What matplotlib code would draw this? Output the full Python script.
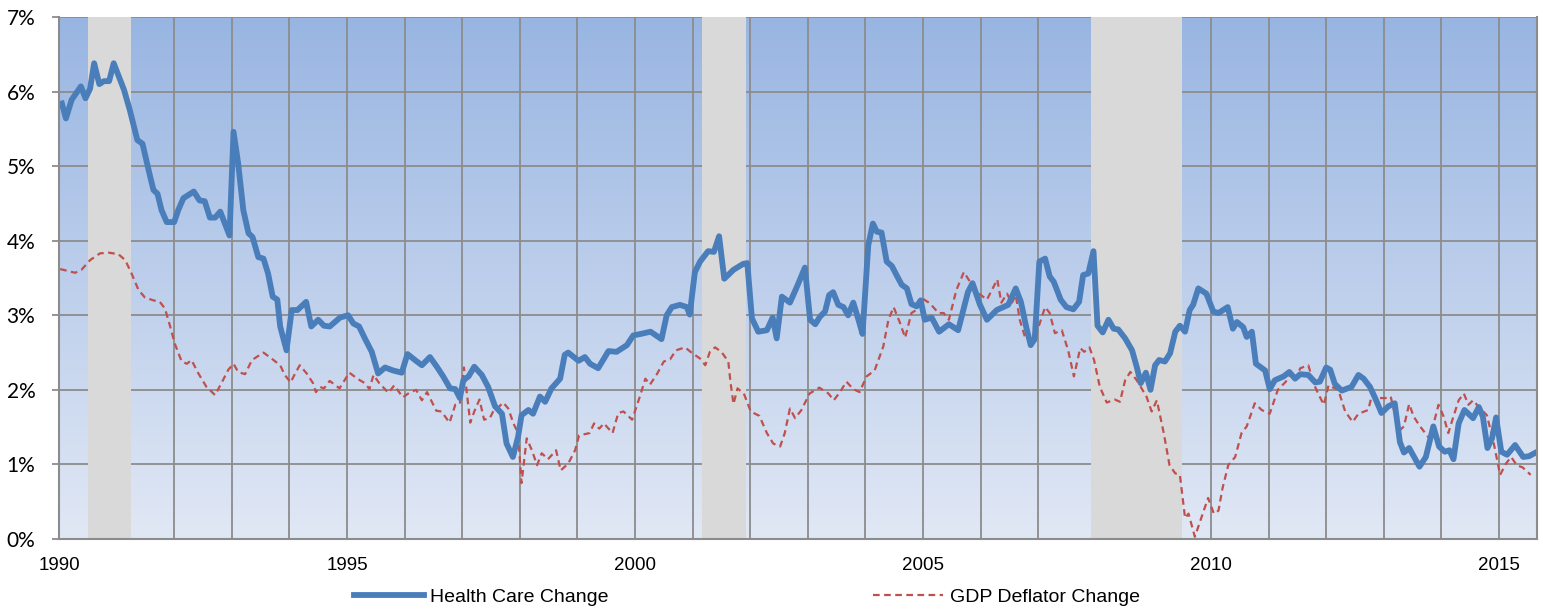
import numpy as np
import matplotlib
matplotlib.use('Agg')
import matplotlib.pyplot as plt
from matplotlib.ticker import MultipleLocator, FuncFormatter

plt.rcParams['font.family'] = ['Liberation Sans', 'DejaVu Sans']

# Health care price change, % y/y
hc_t = [1990.05, 1990.12, 1990.22, 1990.38, 1990.46, 1990.54, 1990.61, 1990.70, 1990.78, 1990.87,
        1990.95, 1991.13, 1991.23, 1991.36, 1991.45, 1991.57, 1991.64, 1991.71, 1991.78, 1991.87,
        1992.00, 1992.07, 1992.16, 1992.34, 1992.44, 1992.53, 1992.62, 1992.71, 1992.80, 1992.88,
        1992.96, 1993.03, 1993.11, 1993.20, 1993.29, 1993.36, 1993.46, 1993.55, 1993.63, 1993.71,
        1993.79, 1993.84, 1993.95, 1994.04, 1994.14, 1994.29, 1994.38, 1994.50, 1994.60, 1994.70,
        1994.88, 1995.02, 1995.11, 1995.21, 1995.31, 1995.43, 1995.54, 1995.66, 1995.80, 1995.95,
        1996.05, 1996.18, 1996.30, 1996.44, 1996.56, 1996.67, 1996.79, 1996.88, 1996.96, 1997.02,
        1997.11, 1997.21, 1997.34, 1997.45, 1997.57, 1997.69, 1997.77, 1997.88, 1997.97, 1998.03,
        1998.15, 1998.23, 1998.35, 1998.44, 1998.55, 1998.70, 1998.78, 1998.84, 1999.02, 1999.13,
        1999.22, 1999.36, 1999.54, 1999.68, 1999.86, 1999.97, 2000.10, 2000.27, 2000.46, 2000.55,
        2000.64, 2000.78, 2000.90, 2000.95, 2001.04, 2001.13, 2001.27, 2001.37, 2001.46, 2001.55,
        2001.71, 2001.88, 2001.95, 2002.03, 2002.14, 2002.29, 2002.39, 2002.46, 2002.55, 2002.69,
        2002.81, 2002.95, 2003.04, 2003.13, 2003.21, 2003.30, 2003.37, 2003.44, 2003.53, 2003.62,
        2003.70, 2003.79, 2003.88, 2003.95, 2004.05, 2004.13, 2004.20, 2004.28, 2004.37, 2004.46,
        2004.54, 2004.63, 2004.72, 2004.80, 2004.89, 2004.96, 2005.03, 2005.15, 2005.28, 2005.45,
        2005.61, 2005.78, 2005.86, 2005.99, 2006.11, 2006.28, 2006.48, 2006.61, 2006.70, 2006.79,
        2006.87, 2006.94, 2007.02, 2007.12, 2007.20, 2007.27, 2007.39, 2007.49, 2007.61, 2007.71,
        2007.78, 2007.87, 2007.96, 2008.03, 2008.12, 2008.22, 2008.31, 2008.39, 2008.51, 2008.63,
        2008.71, 2008.78, 2008.87, 2008.95, 2009.03, 2009.10, 2009.20, 2009.29, 2009.38, 2009.46,
        2009.55, 2009.63, 2009.69, 2009.78, 2009.92, 2010.04, 2010.13, 2010.29, 2010.38, 2010.45,
        2010.56, 2010.62, 2010.71, 2010.78, 2010.94, 2011.02, 2011.11, 2011.26, 2011.36, 2011.46,
        2011.55, 2011.69, 2011.81, 2011.89, 2012.00, 2012.07, 2012.15, 2012.27, 2012.44, 2012.56,
        2012.65, 2012.76, 2012.85, 2012.96, 2013.08, 2013.19, 2013.28, 2013.35, 2013.44, 2013.62,
        2013.73, 2013.86, 2013.96, 2014.06, 2014.14, 2014.21, 2014.30, 2014.40, 2014.55, 2014.65,
        2014.72, 2014.80, 2014.88, 2014.95, 2015.04, 2015.14, 2015.28, 2015.42, 2015.52, 2015.64]
hc_v = [5.84, 5.64, 5.89, 6.07, 5.91, 6.04, 6.38, 6.10, 6.14, 6.14,
        6.38, 6.02, 5.75, 5.35, 5.30, 4.90, 4.68, 4.63, 4.41, 4.25,
        4.25, 4.41, 4.57, 4.66, 4.54, 4.53, 4.31, 4.31, 4.39, 4.23,
        4.07, 5.46, 5.04, 4.41, 4.10, 4.05, 3.78, 3.76, 3.56, 3.25,
        3.21, 2.85, 2.53, 3.07, 3.07, 3.18, 2.85, 2.94, 2.86, 2.85,
        2.97, 3.00, 2.89, 2.85, 2.69, 2.51, 2.22, 2.30, 2.26, 2.23,
        2.48, 2.40, 2.33, 2.44, 2.31, 2.18, 2.02, 2.01, 1.89, 2.13,
        2.18, 2.31, 2.20, 2.04, 1.78, 1.68, 1.28, 1.10, 1.37, 1.66,
        1.73, 1.68, 1.91, 1.84, 2.02, 2.15, 2.47, 2.50, 2.39, 2.44,
        2.35, 2.29, 2.52, 2.51, 2.60, 2.73, 2.75, 2.78, 2.68, 3.00,
        3.11, 3.14, 3.11, 3.01, 3.58, 3.72, 3.86, 3.85, 4.06, 3.49,
        3.61, 3.69, 3.70, 2.96, 2.78, 2.80, 2.97, 2.69, 3.25, 3.17,
        3.38, 3.64, 2.94, 2.88, 2.98, 3.05, 3.27, 3.31, 3.14, 3.11,
        3.00, 3.17, 2.94, 2.75, 3.94, 4.23, 4.12, 4.11, 3.72, 3.66,
        3.54, 3.41, 3.36, 3.15, 3.12, 3.20, 2.94, 2.97, 2.78, 2.88,
        2.80, 3.31, 3.43, 3.14, 2.94, 3.07, 3.14, 3.36, 3.18, 2.85,
        2.60, 2.68, 3.72, 3.76, 3.52, 3.45, 3.21, 3.11, 3.08, 3.18,
        3.54, 3.56, 3.86, 2.86, 2.77, 2.94, 2.82, 2.81, 2.69, 2.53,
        2.31, 2.09, 2.23, 2.00, 2.33, 2.40, 2.38, 2.49, 2.78, 2.86,
        2.78, 3.07, 3.14, 3.36, 3.29, 3.05, 3.03, 3.11, 2.82, 2.91,
        2.84, 2.71, 2.78, 2.35, 2.26, 2.01, 2.13, 2.18, 2.24, 2.15,
        2.21, 2.20, 2.10, 2.11, 2.30, 2.27, 2.08, 1.99, 2.04, 2.20,
        2.15, 2.04, 1.89, 1.69, 1.78, 1.82, 1.30, 1.16, 1.22, 0.97,
        1.10, 1.51, 1.24, 1.17, 1.19, 1.07, 1.55, 1.73, 1.62, 1.77,
        1.64, 1.22, 1.35, 1.63, 1.17, 1.13, 1.26, 1.10, 1.11, 1.16]

# GDP deflator change, % y/y
gdp_t = [1990.02, 1990.28, 1990.39, 1990.54, 1990.71, 1990.86, 1991.03, 1991.15, 1991.26, 1991.38,
         1991.49, 1991.64, 1991.75, 1991.84, 1991.93, 1992.01, 1992.13, 1992.22, 1992.30, 1992.42,
         1992.56, 1992.71, 1992.82, 1992.94, 1993.03, 1993.11, 1993.23, 1993.35, 1993.55, 1993.69,
         1993.84, 1993.92, 1994.02, 1994.10, 1994.18, 1994.30, 1994.41, 1994.46, 1994.53, 1994.60,
         1994.70, 1994.87, 1995.04, 1995.20, 1995.31, 1995.39, 1995.46, 1995.56, 1995.72, 1995.82,
         1995.97, 1996.08, 1996.20, 1996.30, 1996.39, 1996.55, 1996.64, 1996.78, 1996.88, 1996.96,
         1997.03, 1997.14, 1997.21, 1997.30, 1997.38, 1997.48, 1997.55, 1997.61, 1997.71, 1997.80,
         1997.89, 1997.97, 1998.03, 1998.12, 1998.21, 1998.30, 1998.38, 1998.49, 1998.63, 1998.71,
         1998.84, 1998.96, 1999.03, 1999.21, 1999.29, 1999.38, 1999.46, 1999.61, 1999.71, 1999.80,
         1999.95, 2000.08, 2000.18, 2000.26, 2000.38, 2000.50, 2000.61, 2000.71, 2000.87, 2000.98,
         2001.13, 2001.22, 2001.30, 2001.39, 2001.50, 2001.62, 2001.66, 2001.71, 2001.78, 2001.89,
         2002.01, 2002.16, 2002.29, 2002.40, 2002.52, 2002.60, 2002.69, 2002.78, 2002.89, 2003.03,
         2003.20, 2003.36, 2003.45, 2003.56, 2003.67, 2003.79, 2003.90, 2004.02, 2004.16, 2004.31,
         2004.40, 2004.49, 2004.60, 2004.69, 2004.80, 2004.88, 2004.98, 2005.12, 2005.27, 2005.36,
         2005.45, 2005.58, 2005.71, 2005.84, 2005.99, 2006.11, 2006.29, 2006.36, 2006.46, 2006.54,
         2006.61, 2006.68, 2006.77, 2006.86, 2006.97, 2007.12, 2007.20, 2007.29, 2007.41, 2007.52,
         2007.62, 2007.73, 2007.80, 2007.89, 2007.97, 2008.07, 2008.19, 2008.33, 2008.42, 2008.51,
         2008.60, 2008.71, 2008.88, 2008.97, 2009.06, 2009.18, 2009.28, 2009.38, 2009.46, 2009.55,
         2009.61, 2009.72, 2009.84, 2009.95, 2010.05, 2010.13, 2010.20, 2010.30, 2010.42, 2010.53,
         2010.62, 2010.76, 2010.88, 2011.02, 2011.16, 2011.30, 2011.38, 2011.47, 2011.55, 2011.69,
         2011.78, 2011.86, 2011.96, 2012.04, 2012.21, 2012.33, 2012.46, 2012.56, 2012.73, 2012.80,
         2012.90, 2013.03, 2013.12, 2013.19, 2013.28, 2013.35, 2013.44, 2013.52, 2013.63, 2013.79,
         2013.86, 2013.95, 2014.04, 2014.12, 2014.20, 2014.30, 2014.39, 2014.47, 2014.55, 2014.65,
         2014.79, 2014.91, 2015.02, 2015.12, 2015.21, 2015.31, 2015.41, 2015.55]
gdp_v = [3.62, 3.57, 3.61, 3.74, 3.83, 3.84, 3.82, 3.74, 3.56, 3.34,
         3.24, 3.20, 3.18, 3.09, 2.85, 2.62, 2.38, 2.35, 2.40, 2.22,
         2.04, 1.93, 2.09, 2.27, 2.35, 2.24, 2.21, 2.40, 2.50, 2.42,
         2.33, 2.20, 2.10, 2.22, 2.33, 2.22, 2.09, 1.97, 2.04, 2.02,
         2.12, 2.02, 2.23, 2.14, 2.09, 2.01, 2.20, 2.09, 1.96, 2.06,
         1.90, 1.96, 2.00, 1.86, 1.97, 1.72, 1.71, 1.56, 1.80, 1.81,
         2.30, 1.56, 1.71, 1.87, 1.60, 1.62, 1.73, 1.75, 1.83, 1.75,
         1.55, 1.42, 0.75, 1.35, 1.19, 0.99, 1.15, 1.07, 1.19, 0.92,
         1.01, 1.19, 1.39, 1.42, 1.55, 1.48, 1.55, 1.42, 1.69, 1.71,
         1.60, 1.90, 2.15, 2.07, 2.21, 2.38, 2.41, 2.53, 2.57, 2.50,
         2.42, 2.33, 2.51, 2.57, 2.51, 2.38, 2.09, 1.81, 2.02, 1.95,
         1.71, 1.65, 1.42, 1.28, 1.24, 1.42, 1.75, 1.62, 1.73, 1.95,
         2.03, 1.95, 1.86, 1.97, 2.11, 2.01, 1.97, 2.18, 2.26, 2.58,
         2.94, 3.11, 2.90, 2.70, 3.03, 3.07, 3.23, 3.16, 3.03, 3.03,
         2.94, 3.34, 3.58, 3.42, 3.28, 3.21, 3.48, 3.17, 3.29, 3.16,
         3.27, 2.94, 2.71, 2.64, 2.76, 3.11, 3.03, 2.76, 2.80, 2.53,
         2.18, 2.56, 2.51, 2.57, 2.40, 2.04, 1.83, 1.87, 1.84, 2.13,
         2.24, 2.13, 1.91, 1.71, 1.86, 1.42, 0.99, 0.88, 0.86, 0.28,
         0.34, 0.03, 0.30, 0.55, 0.34, 0.38, 0.68, 0.99, 1.10, 1.42,
         1.51, 1.82, 1.73, 1.68, 2.00, 2.11, 2.23, 2.14, 2.29, 2.33,
         2.09, 1.95, 1.80, 2.06, 2.00, 1.71, 1.57, 1.68, 1.73, 1.95,
         1.89, 1.89, 1.91, 1.68, 1.46, 1.51, 1.81, 1.64, 1.51, 1.35,
         1.53, 1.80, 1.64, 1.42, 1.62, 1.86, 1.95, 1.80, 1.86, 1.77,
         1.66, 1.28, 0.86, 1.01, 1.10, 0.99, 0.96, 0.86]

recessions = [(1990.5, 1991.25), (2001.17, 2001.92), (2007.92, 2009.5)]

fig = plt.figure(figsize=(15.43, 6.09), dpi=100)
ax = fig.add_axes([59 / 1543, 70 / 609, 1478 / 1543, 522 / 609])

x0, x1 = 1990, 2015.66

# gradient background, darker blue at the top
grad = np.linspace(0, 1, 256).reshape(-1, 1)
bot = np.array([0xE1, 0xE8, 0xF5]) / 255
top = np.array([0x98, 0xB5, 0xE2]) / 255
img = bot + (top - bot) * grad[:, :, None]
ax.imshow(img, extent=[x0, x1, 0, 7], origin='lower', aspect='auto', zorder=0)
ax.set_xlim(x0, x1)
ax.set_ylim(0, 7)

ax.xaxis.set_major_locator(MultipleLocator(1))
ax.yaxis.set_major_locator(MultipleLocator(1))
ax.set_axisbelow(True)
ax.grid(True, color='#8c8c8c', linewidth=1.3)

for a, b in recessions:
    ax.axvspan(a, b, color='#d9d9d9', zorder=2, linewidth=0)

ax.plot(gdp_t, gdp_v, color='#c0504d', linewidth=1.6, linestyle=(0, (3, 2)), zorder=3,
        label='GDP Deflator Change')
ax.plot(hc_t, hc_v, color='#4a7ebb', linewidth=4.2, zorder=4, solid_joinstyle='round',
        label='Health Care Change')

ax.xaxis.set_major_formatter(FuncFormatter(lambda v, p: str(int(round(v))) if int(round(v)) % 5 == 0 else ''))
ax.yaxis.set_major_formatter(FuncFormatter(lambda v, p: '%d%%' % v))
ax.tick_params(axis='x', length=0, labelsize=13.5, pad=13)
ax.tick_params(axis='y', length=5, width=1.3, color='#8c8c8c', labelsize=15, pad=12, direction='out')
for t in ax.get_yticklabels():
    t.set_family(['Lato', 'Liberation Sans'])

ax.spines['top'].set_visible(False)
for s in ['left', 'bottom', 'right']:
    ax.spines[s].set_color('#8c8c8c')
    ax.spines[s].set_linewidth(1.5)
    ax.spines[s].set_zorder(5)

h, lab = ax.get_legend_handles_labels()
fig.legend(h[::-1], lab[::-1], loc='center', bbox_to_anchor=(0.484, 0.02), ncol=2, frameon=False,
           fontsize=14, handlelength=3.6, handletextpad=0.35, columnspacing=13.6)

fig.savefig('out.png', dpi=100)
